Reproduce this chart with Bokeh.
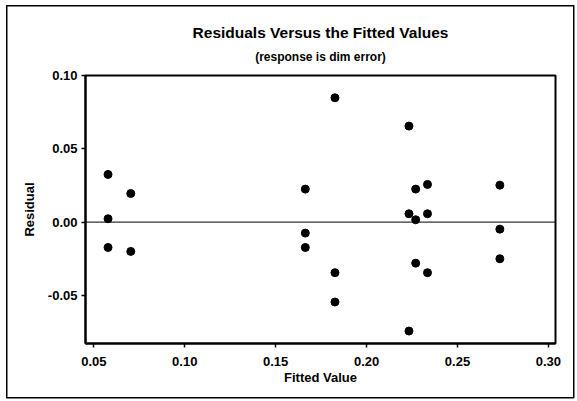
from bokeh.plotting import figure
from bokeh.models import Range1d, FixedTicker, NumeralTickFormatter, Span, Title
from bokeh.embed import file_html
from bokeh.resources import INLINE

# ---- data ----
fitted = [0.0578, 0.0578, 0.0578,
          0.0703, 0.0703,
          0.1663, 0.1663, 0.1663,
          0.1826, 0.1826, 0.1826,
          0.2233, 0.2233, 0.2233,
          0.2270, 0.2270, 0.2270,
          0.2335, 0.2335, 0.2335,
          0.2733, 0.2733, 0.2733]
residual = [0.0325, 0.0023, -0.0173,
            0.0195, -0.0200,
            0.0225, -0.0075, -0.0173,
            0.0848, -0.0345, -0.0545,
            0.0655, 0.0057, -0.0743,
            0.0225, 0.0016, -0.0280,
            0.0257, 0.0057, -0.0345,
            0.0252, -0.0048, -0.0250]
x_ticks = [0.05, 0.10, 0.15, 0.20, 0.25, 0.30]
y_ticks = [-0.05, 0.00, 0.05, 0.10]
title_text = "Residuals Versus the Fitted Values"
subtitle_text = "(response is dim error)"
x_label = "Fitted Value"
y_label = "Residual"

FONT = "Liberation Sans"

# outer page frame drawn as CSS background lines behind a transparent canvas border
frame_css = ", ".join([
    "linear-gradient(#000,#000) 6px 5px / 568px 1.5px no-repeat",
    "linear-gradient(#000,#000) 6px 396.5px / 568px 1.5px no-repeat",
    "linear-gradient(#000,#000) 6px 5px / 1.5px 393px no-repeat",
    "linear-gradient(#000,#000) 572.5px 5px / 1.5px 393px no-repeat",
])

p = figure(width=577, height=401, output_backend="svg", toolbar_location=None,
           x_range=Range1d(0.0454, 0.3039), y_range=Range1d(-0.0828, 0.100),
           min_border_left=85, min_border_right=22, min_border_top=75,
           min_border_bottom=58, styles={"background": frame_css})
p.background_fill_color = "white"
p.border_fill_color = "white"
p.border_fill_alpha = 0.0
p.xgrid.visible = False
p.ygrid.visible = False
p.outline_line_color = "black"
p.outline_line_width = 2

for ax in (p.xaxis[0], p.yaxis[0]):
    ax.axis_line_color = "black"
    ax.axis_line_width = 2
    ax.major_tick_line_color = "black"
    ax.major_tick_line_width = 1.5
    ax.major_tick_out = 4
    ax.major_tick_in = 0
    ax.minor_tick_line_color = None
    ax.major_label_text_font = FONT
    ax.major_label_text_font_style = "bold"
    ax.major_label_text_font_size = "13px"
    ax.major_label_text_color = "black"
    ax.axis_label_text_font = FONT
    ax.axis_label_text_font_style = "bold"
    ax.axis_label_text_font_size = "13px"
    ax.axis_label_text_color = "black"
    ax.formatter = NumeralTickFormatter(format="0.00")

p.xaxis[0].ticker = FixedTicker(ticks=x_ticks)
p.yaxis[0].ticker = FixedTicker(ticks=y_ticks)
p.xaxis[0].axis_label = x_label
p.yaxis[0].axis_label = y_label
p.xaxis[0].major_label_standoff = 9
p.yaxis[0].major_label_standoff = 4
p.xaxis[0].axis_label_standoff = 1
p.yaxis[0].axis_label_standoff = 8

p.add_layout(Span(location=0, dimension="width", line_color="black", line_width=1))

p.scatter(fitted, residual, size=8, marker="circle", fill_color="black",
          line_color="black")

p.add_layout(Title(text=subtitle_text, align="center", text_font=FONT,
                   text_font_style="bold", text_font_size="12px",
                   text_color="black", standoff=23), "above")
p.add_layout(Title(text=title_text, align="center", text_font=FONT,
                   text_font_style="bold", text_font_size="15.5px",
                   text_color="black", standoff=-8), "above")

open("out.html", "w").write(file_html(p, INLINE))
